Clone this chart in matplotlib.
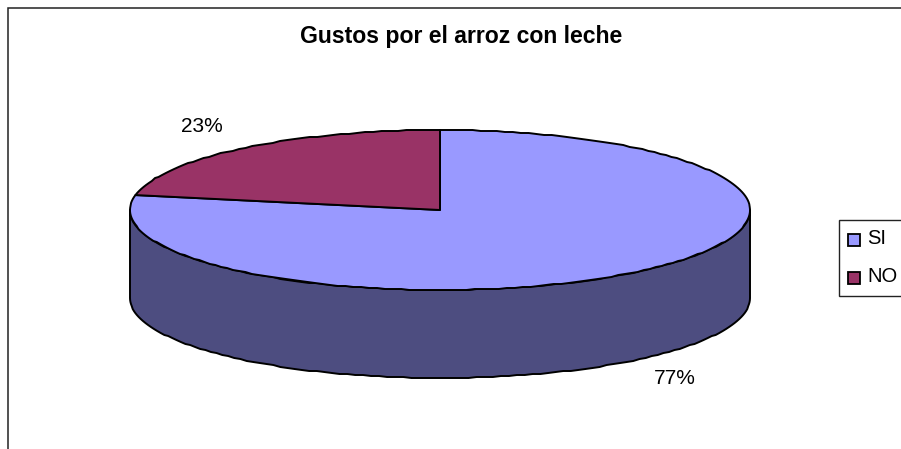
import numpy as np
import matplotlib.pyplot as plt
from matplotlib.patches import Polygon, Rectangle

plt.rcParams['font.family'] = ['Liberation Sans', 'DejaVu Sans']

categories = ["SI", "NO"]
values = [77, 23]
labels = ["77%", "23%"]
title = "Gustos por el arroz con leche"
colors = ["#9999ff", "#993366"]
side_color = "#4d4d80"

W, H = 901, 449
fig = plt.figure(figsize=(W / 100, H / 100), dpi=100)
ax = fig.add_axes([0, 0, 1, 1])
ax.set_xlim(0, W)
ax.set_ylim(H, 0)
ax.axis("off")

# marco del grafico
ax.plot([8, 8, 901], [449, 8, 8], color="#222222", lw=1.1, solid_joinstyle="miter")

# elipse del pastel
cx, cy, rx, ry = 440, 210, 310, 80
depth = 88
perspective = 0.957  # la inclinacion achica el sector de atras
lw_pie = 1.4


def edge(a0, a1, dy=0):
    # borde de la elipse con pequenos escalones, como en el original
    n = max(int(abs(a1 - a0) / 1.5), 2)
    a = np.radians(np.linspace(a0, a1, n))
    x = cx + rx * np.cos(a)
    y = cy - ry * np.sin(a)
    y[1:-1] = np.round(y[1:-1])
    return np.c_[x, y + dy]


# lado del pastel
side = np.vstack([edge(180, 360), edge(360, 180, depth)])
ax.add_patch(Polygon(side, closed=True, fc=side_color, ec="black", lw=lw_pie, joinstyle="round"))

# sectores
boundary = 90 + values[1] * 3.6 * perspective
si_pts = np.vstack([[cx, cy], edge(90, boundary - 360)])
no_pts = np.vstack([[cx, cy], edge(90, boundary)])
ax.add_patch(Polygon(si_pts, closed=True, fc=colors[0], ec="black", lw=lw_pie, joinstyle="round"))
ax.add_patch(Polygon(no_pts, closed=True, fc=colors[1], ec="black", lw=lw_pie, joinstyle="round"))

ax.text(461.5, 36, title, fontsize=16.6, fontweight="bold", ha="center", va="center")
ax.text(675, 378, labels[0], fontsize=15, ha="center", va="center")
ax.text(202, 127, labels[1], fontsize=15, ha="center", va="center")

# leyenda
ax.add_patch(Rectangle((839, 220), 70, 76, fc="white", ec="#222222", lw=1.0))
for y, c, name in zip([239.5, 278], colors, categories):
    ax.add_patch(Rectangle((847.5, y - 6), 12, 12, fc=c, ec="black", lw=1.3))
    ax.text(867.5, y - 1, name, fontsize=14.5, ha="left", va="center")

fig.savefig("out.png", dpi=100)
